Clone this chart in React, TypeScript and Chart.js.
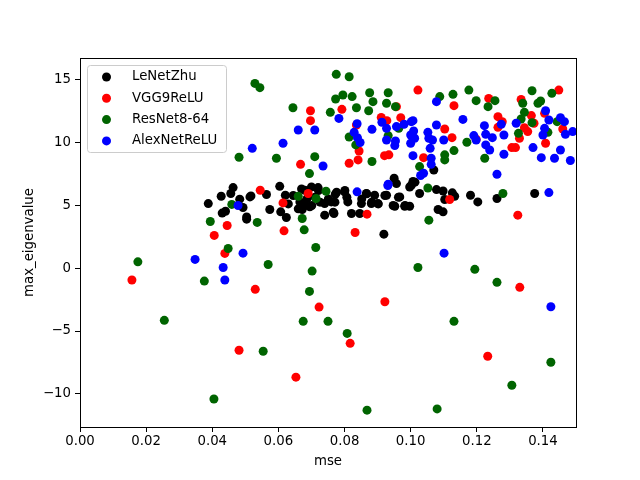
import React, { useEffect, useRef } from "react";
import { Chart, registerables } from "chart.js";
Chart.register(...registerables);

const xTicks = [0, 0.02, 0.04, 0.06, 0.08, 0.1, 0.12, 0.14];
const yTicks = [-10, -5, 0, 5, 10, 15];
const xLabel = "mse";
const yLabel = "max_eigenvalue";
const seriesNames = ["LeNetZhu", "VGG9ReLU", "ResNet8-64", "AlexNetReLU"];
const seriesColors = ["#000000", "#ff0000", "#006400", "#0000ff"];

const lenetZhu = [
  [0.0388, 5.13], [0.0427, 5.71], [0.0463, 6.4], [0.0456, 5.93], [0.0483, 5.48], [0.043, 4.37], [0.044, 4.52],
  [0.0493, 4.82], [0.0504, 3.89], [0.0514, 5.66], [0.0604, 6.5], [0.0517, 5.74], [0.0564, 5.85], [0.0504, 4.07],
  [0.0574, 4.66], [0.0621, 5.79], [0.0607, 4.47], [0.0624, 4.02], [0.068, 6.19], [0.07, 6.45], [0.072, 6.4],
  [0.0665, 5.26], [0.0672, 4.66], [0.0695, 4.87], [0.074, 5.13], [0.074, 4.21], [0.0768, 4.34], [0.0772, 5.87],
  [0.076, 5.26], [0.08, 6.06], [0.081, 5.26], [0.0821, 4.34], [0.0846, 4.34], [0.0866, 5.93], [0.0851, 5.13],
  [0.0881, 5.13], [0.0901, 5.13], [0.0891, 5.79], [0.0927, 5.79], [0.0952, 4.92], [0.0967, 5.66], [0.0982, 4.92],
  [0.0997, 6.45], [0.0957, 6.72], [0.0919, 2.7], [0.095, 7.14], [0.1027, 5.93], [0.1002, 6.59], [0.0997, 4.92],
  [0.1078, 6.24], [0.1098, 6.13], [0.1126, 5.98], [0.1103, 5.45], [0.1133, 5.71], [0.1083, 4.66], [0.1098, 4.47],
  [0.1181, 5.79], [0.1203, 5.26], [0.1261, 5.53], [0.1375, 5.93], [0.107, 7.8], [0.1007, 6.88],
  [0.0645, 5.77], [0.067, 6.29], [0.068, 4.98], [0.066, 4.71], [0.0701, 4.98], [0.0726, 5.24], [0.0751, 5.5],
  [0.0686, 5.5], [0.0711, 5.63], [0.063, 5.1], [0.0766, 4.44], [0.0721, 6.17], [0.0776, 6.03], [0.0801, 6.17],
  [0.0807, 5.63], [0.0771, 5.24], [0.0867, 5.9], [0.0852, 5.5], [0.0882, 5.24], [0.0902, 5.1], [0.0922, 5.77],
  [0.0963, 5.63], [0.0947, 4.98], [0.0983, 4.98], [0.1013, 6.83],
];

const vgg9ReLU = [
  [0.0445, 3.39], [0.0406, 2.6], [0.0438, 1.17], [0.0157, -0.95], [0.0481, -6.53], [0.0723, -3.1], [0.0922, -2.67],
  [0.0817, -5.98], [0.0653, -8.67], [0.1233, -7.01], [0.0545, 6.19], [0.069, 5.93], [0.0614, 5.18], [0.0868, 4.29],
  [0.0617, 2.96], [0.0832, 2.83], [0.053, -1.69], [0.1118, 5.45], [0.1324, 4.21], [0.133, -1.53],
  [0.0697, 12.51], [0.0697, 11.72], [0.0792, 12.62], [0.0911, 11.98], [0.0928, 11.72], [0.0957, 12.83], [0.097, 11.96],
  [0.0836, 11.37], [0.0844, 9.31], [0.0841, 8.6], [0.0814, 8.33], [0.0667, 8.25], [0.0921, 8.94], [0.0934, 9.0],
  [0.1022, 14.15], [0.1448, 14.15], [0.1131, 12.91], [0.1236, 13.49], [0.1334, 13.41], [0.1264, 12.04], [0.1277, 11.64],
  [0.1264, 11.19], [0.1365, 12.12], [0.1373, 11.51], [0.1344, 11.16], [0.1354, 10.85], [0.1405, 12.3], [0.146, 11.06],
  [0.1103, 11.06], [0.1125, 10.37], [0.1198, 10.24], [0.1329, 10.32], [0.1306, 9.58], [0.1317, 9.58], [0.1408, 9.92],
  [0.1039, 8.78],
];

const resNet8 = [
  [0.0175, 0.5], [0.0255, -4.15], [0.0394, 3.7], [0.0459, 5.06], [0.0448, 1.56], [0.0376, -1.03], [0.0405, -10.4],
  [0.0675, -4.23], [0.075, -4.23], [0.0808, -5.19], [0.0554, -6.61], [0.0868, -11.29], [0.1131, -4.23], [0.1424, -7.48],
  [0.1306, -9.31], [0.108, -11.19], [0.066, 5.71], [0.0714, 5.53], [0.0744, 6.11], [0.0536, 3.63], [0.0672, 3.94],
  [0.0678, 3.04], [0.0713, 1.64], [0.0569, 0.29], [0.0702, -0.24], [0.0694, -1.85], [0.1022, 0.05], [0.1052, 6.37],
  [0.1279, 5.93], [0.1055, 3.81], [0.1194, -0.1], [0.1261, -1.13], [0.0481, 8.81], [0.0529, 14.68], [0.0544, 14.34],
  [0.0775, 15.4], [0.0814, 15.21], [0.0644, 12.75], [0.0795, 13.76], [0.0773, 13.44], [0.0823, 13.63], [0.0757, 12.38],
  [0.0836, 12.75], [0.0876, 13.94], [0.0886, 13.23], [0.0873, 12.51], [0.0932, 13.94], [0.0927, 13.1], [0.0954, 12.83],
  [0.0814, 10.42], [0.0834, 9.79], [0.0594, 8.73], [0.071, 8.86], [0.0694, 7.51], [0.0883, 8.47], [0.0932, 10.53],
  [0.0964, 11.11], [0.1088, 13.63], [0.1128, 13.81], [0.1176, 14.15], [0.1198, 13.31], [0.1234, 12.83], [0.1255, 13.31],
  [0.1339, 13.1], [0.1344, 12.38], [0.1334, 11.85], [0.1367, 14.1], [0.1385, 13.1], [0.1393, 13.28], [0.1427, 13.89],
  [0.1367, 11.56], [0.1443, 11.64], [0.1326, 10.71], [0.1415, 10.79], [0.117, 10.0], [0.1131, 9.34], [0.1103, 9.0],
  [0.1103, 8.6], [0.1224, 8.73], [0.1027, 8.07],
];

const alexNetReLU = [
  [0.0478, 4.98], [0.0348, 0.69], [0.0493, 1.19], [0.0433, 0.05], [0.0438, -0.95], [0.0838, 6.06], [0.0931, 6.56],
  [0.1418, 6.0], [0.1101, 1.19], [0.1424, -3.07], [0.0521, 9.52], [0.0783, 11.9], [0.066, 10.98], [0.071, 10.98],
  [0.0614, 9.92], [0.0735, 8.12], [0.0838, 11.48], [0.0829, 10.79], [0.0839, 10.37], [0.0847, 9.98], [0.0883, 11.03],
  [0.0913, 11.59], [0.0927, 11.11], [0.0957, 11.25], [0.098, 11.43], [0.1002, 11.64], [0.0927, 10.18], [0.0954, 10.1],
  [0.0952, 9.74], [0.1, 10.58], [0.1, 9.92], [0.1007, 8.94], [0.0932, 6.67], [0.1078, 13.23], [0.1007, 11.72],
  [0.1078, 11.37], [0.1052, 10.79], [0.1009, 10.9], [0.1012, 10.32], [0.1055, 10.32], [0.1066, 10.18], [0.1059, 9.52],
  [0.11, 10.18], [0.1158, 11.82], [0.1223, 11.32], [0.1227, 10.63], [0.1191, 10.53], [0.1198, 10.18], [0.1247, 10.37],
  [0.1227, 9.79], [0.1282, 10.58], [0.1274, 11.43], [0.1319, 11.51], [0.1408, 12.51], [0.1418, 11.77], [0.1453, 11.96],
  [0.1465, 11.64], [0.1405, 11.11], [0.14, 10.58], [0.1468, 10.63], [0.149, 10.85], [0.1239, 9.39], [0.1282, 9.05],
  [0.137, 9.58], [0.1453, 9.39], [0.1395, 8.78], [0.1435, 8.73], [0.1483, 8.55], [0.1062, 8.73], [0.1062, 8.25],
  [0.1039, 7.54], [0.103, 7.36], [0.1261, 7.46],
];

const seriesData = [lenetZhu, vgg9ReLU, resNet8, alexNetReLU];

const FONT = "'DejaVu Sans', sans-serif";

const framePlugin = {
  id: "frameAndLegend",
  afterDraw(chart: any) {
    const { ctx, chartArea } = chart;
    const { left, right, top, bottom } = chartArea;
    ctx.save();
    ctx.strokeStyle = "#000";
    ctx.lineWidth = 1;
    ctx.strokeRect(Math.round(left) + 0.5, Math.round(top) + 0.5, Math.round(right - left), Math.round(bottom - top));
    const bx = 87.5, by = 65.5, bw = 139, bh = 87, r = 3;
    ctx.beginPath();
    ctx.moveTo(bx + r, by);
    ctx.lineTo(bx + bw - r, by);
    ctx.arcTo(bx + bw, by, bx + bw, by + r, r);
    ctx.lineTo(bx + bw, by + bh - r);
    ctx.arcTo(bx + bw, by + bh, bx + bw - r, by + bh, r);
    ctx.lineTo(bx + r, by + bh);
    ctx.arcTo(bx, by + bh, bx, by + bh - r, r);
    ctx.lineTo(bx, by + r);
    ctx.arcTo(bx, by, bx + r, by, r);
    ctx.closePath();
    ctx.fillStyle = "rgba(255,255,255,0.8)";
    ctx.fill();
    ctx.strokeStyle = "#cccccc";
    ctx.stroke();
    ctx.font = `13.3px ${FONT}`;
    ctx.textBaseline = "middle";
    ctx.textAlign = "left";
    seriesNames.forEach((name, i) => {
      const cy = 77 + i * 21.3;
      ctx.beginPath();
      ctx.arc(106.5, cy, 4.5, 0, Math.PI * 2);
      ctx.fillStyle = seriesColors[i];
      ctx.fill();
      ctx.fillStyle = "#000";
      ctx.fillText(name, 132, cy);
    });
    ctx.restore();
  },
};

export default function App() {
  const ref = useRef<HTMLCanvasElement>(null);
  useEffect(() => {
    if (!ref.current) return;
    Chart.defaults.font.family = FONT;
    Chart.defaults.font.size = 13.3;
    Chart.defaults.color = "#000";
    const chart = new Chart(ref.current, {
      type: "scatter",
      data: {
        datasets: seriesData.map((pts, i) => ({
          label: seriesNames[i],
          data: pts.map(([x, y]) => ({ x, y })),
          backgroundColor: seriesColors[i],
          borderWidth: 0,
          pointRadius: 4.5,
          order: seriesData.length - i,
        })),
      },
      options: {
        animation: false,
        responsive: false,
        events: [],
        layout: { padding: { top: 58, right: 64, left: 0, bottom: 0 } },
        plugins: { legend: { display: false }, tooltip: { enabled: false } },
        scales: {
          x: {
            type: "linear",
            min: 0,
            max: 0.15,
            afterBuildTicks: (s: any) => { s.ticks = xTicks.map((v) => ({ value: v })); },
            afterFit: (s: any) => { s.height = 53; },
            ticks: { callback: (v: any) => Number(v).toFixed(2), padding: 2, maxRotation: 0, autoSkip: false },
            grid: { drawOnChartArea: false, drawTicks: true, tickLength: 5, color: "#000" },
            border: { display: true, color: "#000" },
            title: { display: true, text: xLabel, padding: { top: 10, bottom: 10 } },
          },
          y: {
            type: "linear",
            min: -12.63,
            max: 16.7,
            afterBuildTicks: (s: any) => { s.ticks = yTicks.map((v) => ({ value: v })); },
            afterFit: (s: any) => { s.width = 80; },
            ticks: { callback: (v: any) => String(v).replace("-", "\u2212"), padding: 4, autoSkip: false },
            grid: { drawOnChartArea: false, drawTicks: true, tickLength: 5, color: "#000" },
            border: { display: true, color: "#000" },
            title: { display: true, text: yLabel, padding: { top: 22, bottom: 22 } },
          },
        },
      },
      plugins: [framePlugin],
    } as any);
    return () => chart.destroy();
  }, []);
  return (
    <div style={{ position: "fixed", left: 0, top: 0, width: 640, height: 480, background: "#fff" }}>
      <canvas ref={ref} width={640} height={480} style={{ width: 640, height: 480 }} />
    </div>
  );
}
